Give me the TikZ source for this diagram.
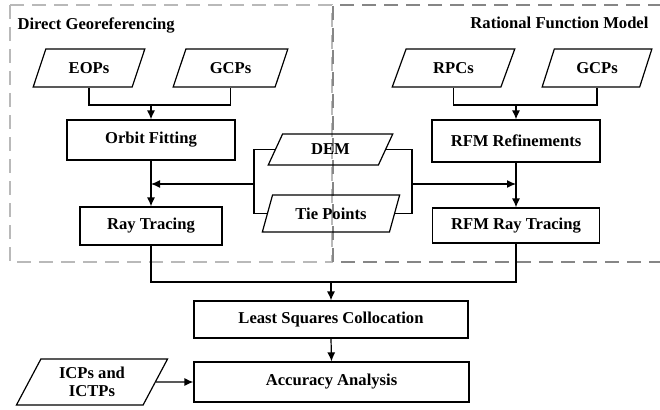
\documentclass[tikz,border=0pt]{standalone}
\usepackage{fontspec}
\setmainfont{Liberation Serif}
\usetikzlibrary{arrows.meta,shapes.geometric}
\tikzset{
	proc/.style={draw, line width=1.2pt, inner sep=0pt, minimum height=#1},
	proc/.default=40pt,
	data/.style={draw, line width=1.2pt, trapezium, trapezium left angle=62,
		trapezium right angle=118, trapezium stretches=true, inner sep=0pt},
	flow/.style={line width=1.2pt, -{Latex[length=9pt, width=8pt]}},
	link/.style={line width=1.2pt},
	regionL/.style={gray!55, line width=2pt, dash pattern=on 14pt off 8pt},
	regionR/.style={gray!95!white, line width=2pt, dash pattern=on 14pt off 8pt}
}
\begin{document}
\begin{tikzpicture}[x=1pt, y=-1pt, font=\fontsize{16.6}{18}\selectfont\bfseries]
	\useasboundingbox (0, 0) rectangle (660, 409);
	% dashed regions
	\draw[regionL] (10, 5) rectangle (332, 262);
	\draw[regionR] (662, 5) -- (333, 5) -- (333, 262) -- (662, 262);
	\node[anchor=west] (titleL) at (14, 25) {Direct Georeferencing};
	\node[anchor=east] (titleR) at (652, 23) {Rational Function Model};
	% inputs
	\node[data, minimum width=112pt, minimum height=38pt] (eops) at (89, 68) {EOPs};
	\node[data, minimum width=115pt, minimum height=38pt] (gcpL) at (230.5, 68) {GCPs};
	\node[data, minimum width=123pt, minimum height=38pt] (rpcs) at (453.5, 68) {RPCs};
	\node[data, minimum width=110pt, minimum height=38pt] (gcpR) at (597, 68) {GCPs};
	\node[data, minimum width=125pt, minimum height=31pt] (dem) at (330.5, 149.5) {DEM};
	\node[data, minimum width=138pt, minimum height=37pt] (tie) at (331, 213.5) {Tie Points};
	\node[data, minimum width=152pt, minimum height=46pt, align=center] (icp) at (92, 382)
		{ICPs and\\ICTPs};
	% processes
	\node[proc, minimum width=168pt] (orbit) at (151, 140) {Orbit Fitting};
	\node[proc=38pt, minimum width=142pt] (ray) at (151, 226) {Ray Tracing};
	\node[proc=42pt, minimum width=168pt] (rfmref) at (516, 141) {RFM Refinements};
	\node[proc=35pt, minimum width=167pt] (rfmray) at (516, 225.5) {RFM Ray Tracing};
	\node[proc=37pt, minimum width=274pt] (lsc) at (331, 319.5) {Least Squares Collocation};
	\node[proc, minimum width=275pt] (acc) at (331.5, 382) {Accuracy Analysis};
	% junctions
	\coordinate (jL) at (151, 105);
	\coordinate (jR) at (516, 105);
	\coordinate (bl) at (254, 184);
	\coordinate (br) at (412, 184);
	\coordinate (jB) at (331, 282);
	% connectors
	\draw[link] (eops.south) |- (jL) -| (gcpL.south);
	\draw[flow] (jL) -- (orbit.north);
	\draw[link] (rpcs.south) |- (jR) -| (gcpR.south);
	\draw[flow] (jR) -- (rfmref.north);
	\draw[flow] (orbit.south) -- (ray.north);
	\draw[flow] (rfmref.south) -- (rfmray.north);
	\draw[link] (dem.west) -| (bl) |- (tie.west);
	\draw[link] (dem.east) -| (br) |- (tie.east);
	\draw[flow] (bl) -- (bl -| orbit.south);
	\draw[flow] (br) -- (br -| rfmref.south);
	\draw[link] (ray.south) |- (jB) -| (rfmray.south);
	\draw[flow] (jB) -- (lsc.north);
	\draw[flow] (lsc.south) -- (acc.north);
	\draw[flow] (icp.east) -- (acc.west);
\end{tikzpicture}
\end{document}
